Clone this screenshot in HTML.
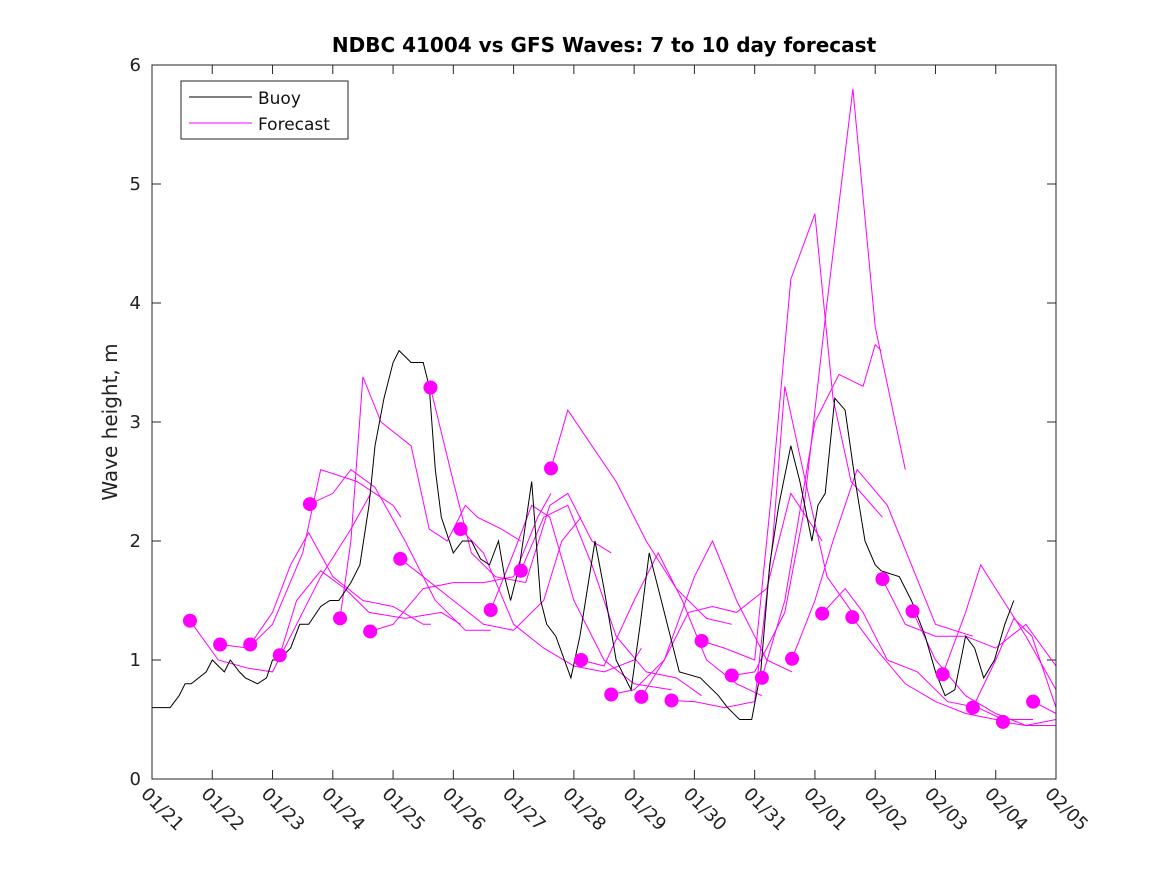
<!DOCTYPE html>
<html><head><meta charset="utf-8"><style>
html,body{margin:0;padding:0;background:#fff;}
svg{display:block;font-family:"DejaVu Sans","Liberation Sans",sans-serif;}
</style></head><body>
<svg id="chart" width="1167" height="875" viewBox="0 0 1167 875">
<rect x="0" y="0" width="1167" height="875" fill="#fff"/>
<text x="604" y="52" text-anchor="middle" font-size="20" font-weight="bold" fill="#000">NDBC 41004 vs GFS Waves: 7 to 10 day forecast</text>
<text transform="translate(117,422) rotate(-90)" text-anchor="middle" font-size="20" fill="#222">Wave height, m</text>
<defs><clipPath id="pc"><rect x="152" y="65" width="904" height="714"/></clipPath></defs>
<g id="axes"></g>
<g id="series" clip-path="url(#pc)"></g>
<g id="dots"></g>
<rect x="152" y="65" width="904" height="714" fill="none" stroke="#262626" stroke-width="1"/>
<g>
<rect x="181" y="81" width="167" height="58" fill="#fff" stroke="#262626"/>
<line x1="189" y1="97" x2="252" y2="97" stroke="#000"/>
<text x="258" y="104" font-size="17" fill="#111">Buoy</text>
<line x1="189" y1="123" x2="252" y2="123" stroke="#ff00ff"/>
<text x="258" y="130" font-size="17" fill="#111">Forecast</text>
</g>
</svg>
<script>
const xLabels=["01/21","01/22","01/23","01/24","01/25","01/26","01/27","01/28","01/29","01/30","01/31","02/01","02/02","02/03","02/04","02/05"];
const yTicks=[0,1,2,3,4,5,6];
const buoyDays=[0,0.3,0.45,0.55,0.65,0.9,1.0,1.2,1.3,1.45,1.55,1.75,1.9,2.0,2.1,2.3,2.45,2.6,2.8,2.95,3.1,3.3,3.45,3.6,3.7,3.85,4.0,4.1,4.3,4.5,4.6,4.7,4.8,5.0,5.15,5.3,5.45,5.6,5.75,5.85,5.95,6.1,6.3,6.45,6.55,6.7,6.95,7.1,7.35,7.5,7.7,7.95,8.1,8.25,8.45,8.6,8.75,9.1,9.4,9.55,9.75,9.95,10.1,10.25,10.4,10.6,10.75,10.95,11.05,11.17,11.33,11.5,11.67,11.83,12.0,12.1,12.4,12.6,12.83,13.0,13.16,13.32,13.5,13.65,13.8,13.98,14.15,14.3];
const buoyVals=[0.6,0.6,0.7,0.8,0.8,0.9,1.0,0.9,1.0,0.9,0.85,0.8,0.85,1.0,1.0,1.1,1.3,1.3,1.45,1.5,1.5,1.65,1.8,2.3,2.8,3.2,3.5,3.6,3.5,3.5,3.3,2.6,2.2,1.9,2.0,2.0,1.85,1.8,2.0,1.7,1.5,1.8,2.5,1.5,1.3,1.2,0.85,1.2,2.0,1.6,1.0,0.75,1.3,1.9,1.5,1.2,0.9,0.85,0.7,0.6,0.5,0.5,0.9,1.8,2.3,2.8,2.5,2.0,2.3,2.4,3.2,3.1,2.5,2.0,1.8,1.75,1.7,1.5,1.2,0.9,0.7,0.75,1.2,1.1,0.85,1.0,1.3,1.5];
const fcDays=[
[0.63,1.1,1.6,2.0,2.3,2.8,3.3,3.63],
[1.13,1.6,2.0,2.5,2.8,3.4,4.0,4.13],
[1.63,2.0,2.3,2.6,3.0,3.5,4.0,4.5,4.63],
[2.12,2.4,2.8,3.2,3.6,4.2,4.8,5.12],
[2.62,3.0,3.3,3.7,4.2,4.7,5.2,5.62],
[3.12,3.3,3.5,3.8,4.3,4.6,4.9,5.2,5.4,5.8,6.12],
[3.62,4.0,4.5,5.0,5.5,6.0,6.4,6.62],
[4.12,4.5,5.0,5.5,6.0,6.5,6.8,7.12],
[4.62,5.0,5.3,5.7,6.2,6.6,6.9,7.3,7.62],
[5.12,5.5,6.0,6.5,7.0,7.5,8.0,8.12],
[5.62,6.0,6.3,6.6,7.0,7.5,8.0,8.62],
[6.12,6.5,6.9,7.3,7.7,8.2,8.7,9.12],
[6.62,6.9,7.3,7.7,8.2,8.7,9.2,9.62],
[7.12,7.5,8.0,8.4,8.8,9.2,9.7,10.12],
[7.62,8.0,8.5,9.0,9.3,9.7,10.2,10.62],
[8.12,8.5,8.9,9.3,9.7,10.2,10.6,11.12],
[8.62,9.0,9.5,10.0,10.3,10.5,10.8,11.2,11.62],
[9.12,9.5,10.0,10.3,10.6,11.0,11.3,11.6,12.12],
[9.62,10.0,10.5,10.8,11.2,11.63,12.0,12.5],
[10.12,10.5,11.0,11.4,11.8,12.0,12.1],
[10.62,11.0,11.3,11.7,12.2,12.6,13.0,13.62],
[11.12,11.5,11.8,12.2,12.7,13.2,13.7,14.12],
[11.62,12.0,12.5,13.0,13.5,14.0,14.62],
[12.12,12.5,13.0,13.5,14.0,14.5,15.0],
[12.62,13.0,13.5,14.0,14.5,15.0],
[13.12,13.5,13.75,14.0,14.5,15.0],
[13.62,14.0,14.3,14.6,15.0],
[14.12,14.5,15.0],
[14.62,15.0]];
const fcVals=[
[1.33,1.0,0.93,0.9,1.2,1.7,2.1,2.4],
[1.13,1.1,1.3,1.9,2.6,2.5,2.3,2.2],
[1.13,1.4,1.8,2.07,1.7,1.5,1.45,1.3,1.3],
[1.04,1.5,1.75,1.6,1.4,1.35,1.4,1.3],
[2.31,2.4,2.6,2.45,2.0,1.5,1.25,1.25],
[1.35,2.0,3.38,3.0,2.8,2.1,2.0,2.3,2.2,2.1,2.0],
[1.24,1.3,1.6,1.65,1.65,1.7,2.2,2.4],
[1.85,1.7,1.5,1.3,1.25,1.5,2.0,2.2],
[3.29,2.5,1.9,1.7,1.65,2.3,2.4,2.0,1.9],
[2.1,1.9,1.3,1.1,0.95,0.9,1.0,1.1],
[1.42,1.9,2.3,2.2,1.5,1.0,0.8,0.75],
[1.75,2.2,2.3,1.8,1.2,0.9,0.85,0.7],
[2.61,3.1,2.8,2.5,2.0,1.6,1.35,1.3],
[1.0,0.95,1.5,1.9,1.5,1.0,0.8,0.7],
[0.71,0.75,1.0,1.7,2.0,1.5,1.0,0.9],
[0.69,1.0,1.4,1.45,1.4,1.6,2.4,2.0],
[0.66,0.65,0.6,0.65,2.0,3.3,2.6,1.7,1.4],
[1.16,1.1,1.0,2.5,4.2,4.75,3.2,2.5,2.2],
[0.87,0.9,1.4,2.2,4.0,5.8,3.8,2.6],
[0.85,1.5,3.0,3.4,3.3,3.65,3.6],
[1.01,1.5,2.0,2.6,2.3,1.8,1.3,1.2],
[1.39,1.6,1.4,1.0,0.9,0.65,0.6,0.5],
[1.36,1.1,0.8,0.65,0.55,0.5,0.5],
[1.68,1.3,1.2,1.2,1.1,1.3,0.95],
[1.41,1.0,0.7,0.55,0.45,0.45],
[0.88,1.4,1.8,1.6,1.2,0.75],
[0.6,1.0,1.35,1.2,0.6],
[0.48,0.45,0.5],
[0.65,0.55]];
const NS="http://www.w3.org/2000/svg";
const X=d=>152+d*904/15;
const Y=v=>779-v*714/6;
const axes=document.getElementById('axes');
const series=document.getElementById('series');
const dots=document.getElementById('dots');
function mk(tag,attrs,parent){const e=document.createElementNS(NS,tag);for(const k in attrs)e.setAttribute(k,attrs[k]);parent.appendChild(e);return e;}
yTicks.forEach(v=>{
  const t=mk('line',{x1:152,x2:161,y1:Y(v),y2:Y(v),stroke:'#262626'},axes);
  
  
  const t2=mk('line',{x1:1047,x2:1056,y1:Y(v),y2:Y(v),stroke:'#262626'},axes);
  
  
  const l=mk('text',{x:141,y:Y(v)+6,'text-anchor':'end','font-size':18,fill:'#222'},axes);
  l.textContent=v;
  
  
});
xLabels.forEach((s,i)=>{
  const x=X(i);
  const t=mk('line',{x1:x,x2:x,y1:779,y2:770,stroke:'#262626'},axes);
  
  
  const t2=mk('line',{x1:x,x2:x,y1:65,y2:74,stroke:'#262626'},axes);
  
  
  const l=mk('text',{transform:`translate(${x-12},${795}) rotate(45)`,'font-size':18,fill:'#222'},axes);
  l.textContent=s;
  
  
});
fcDays.forEach((ds,i)=>{
  const pts=ds.map((d,j)=>X(d).toFixed(1)+','+Y(fcVals[i][j]).toFixed(1)).join(' ');
  const p=mk('polyline',{points:pts,fill:'none',stroke:'#ff00ff','stroke-width':1},series);
  
  
  const c=mk('circle',{cx:X(ds[0]),cy:Y(fcVals[i][0]),r:7,fill:'#ff00ff'},dots);
  
  
});
const bp=buoyDays.map((d,j)=>X(d).toFixed(1)+','+Y(buoyVals[j]).toFixed(1)).join(' ');
const b=mk('polyline',{points:bp,fill:'none',stroke:'#000','stroke-width':1},series);


</script>
</body></html>
